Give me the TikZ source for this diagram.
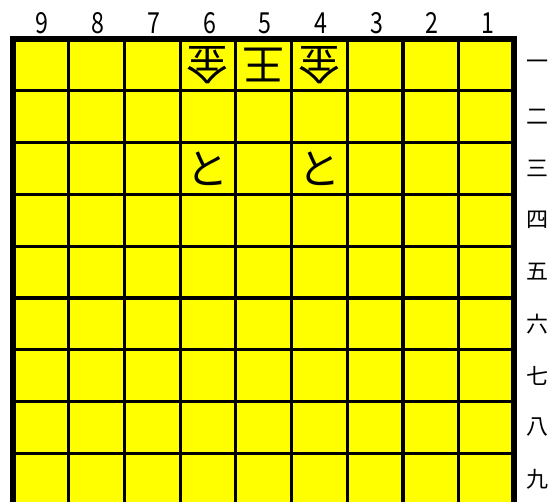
\documentclass[tikz,border=0pt]{standalone}
\usepackage{fontspec}
\newfontfamily\cjk{Noto Sans CJK JP}
\definecolor{boardyellow}{RGB}{255,255,0}
\begin{document}
\begin{tikzpicture}[x=1pt,y=-1pt,
  colnum/.style={font=\cjk\fontsize{29}{29}\selectfont,anchor=base,inner sep=0pt,xscale=0.8},
  rownum/.style={font=\cjk\fontsize{22}{22}\selectfont,inner sep=0pt},
  koma/.style={font=\cjk\fontsize{42}{42}\selectfont,inner sep=0pt},
  gotekoma/.style={koma,rotate=180}]
  \clip (0,0) rectangle (556,502);
  \fill[white] (0,0) rectangle (556,502);
  % board
  \fill[boardyellow] (13,39) rectangle (514.3,505.2);
  \foreach \i in {1,...,8} {
    \draw[line width=3.2pt] ({13+55.7*\i},39) -- ({13+55.7*\i},505.2);
    \draw[line width=3.2pt] (13,{39+51.8*\i}) -- (514.3,{39+51.8*\i});
  }
  \draw[line width=6pt] (13,39) rectangle (514.3,505.2);
  % file numbers
  \foreach \n [count=\k] in {9,8,7,6,5,4,3,2,1}
    \node[colnum] (col\n) at ({13+55.7*(\k-0.5)+1.5},34) {\n};
  % rank numbers
  \foreach \r [count=\k] in {一,二,三,四,五,六,七,八,九}
    \node[rownum] (row\k) at (537,{39+51.8*(\k-0.5)}) {\r};
  % pieces
  \node[gotekoma] (gold61) at ({13+55.7*3.5},{39+51.8*0.5}) {金};
  \node[gotekoma] (king51) at ({13+55.7*4.5},{39+51.8*0.5}) {王};
  \node[gotekoma] (gold41) at ({13+55.7*5.5},{39+51.8*0.5}) {金};
  \node[koma] (tokin63) at ({13+55.7*3.5},{39+51.8*2.5}) {と};
  \node[koma] (tokin43) at ({13+55.7*5.5},{39+51.8*2.5}) {と};
\end{tikzpicture}
\end{document}
